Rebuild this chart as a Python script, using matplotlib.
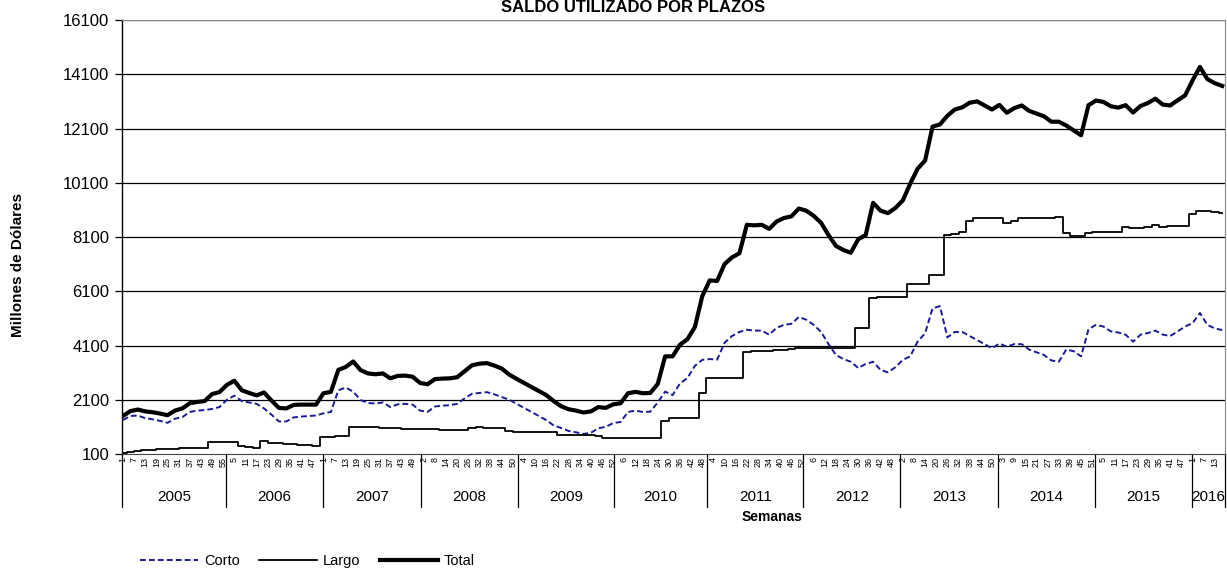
import matplotlib
matplotlib.use('Agg')
import matplotlib.pyplot as plt
import matplotlib.transforms as mtransforms
import numpy as np

plt.rcParams['font.family'] = ['Liberation Sans', 'DejaVu Sans']

# semanas por año (eje de categorías)
years = ['2005', '2006', '2007', '2008', '2009', '2010', '2011', '2012', '2013', '2014', '2015', '2016']
weeks_per_year = [56, 52, 53, 52, 52, 50, 52, 52, 53, 52, 52, 18]

# valores leídos cada 4 semanas (millones de dólares)
corto = [1350, 1500, 1520, 1420, 1380, 1320, 1250, 1400, 1460, 1650,
         1700, 1720, 1760, 1830, 2100, 2250, 2050, 2000, 1950, 1780,
         1550, 1300, 1300, 1450, 1480, 1500, 1520, 1600, 1650, 2450,
         2550, 2400, 2090, 1980, 1960, 2000, 1830, 1930, 1950, 1920,
         1700, 1650, 1850, 1880, 1900, 1950, 2150, 2320, 2350, 2380,
         2300, 2200, 2100, 1950, 1800, 1650, 1500, 1350, 1150, 1060,
         950, 900, 840, 880, 1050, 1100, 1240, 1280, 1650, 1700,
         1650, 1660, 2000, 2400, 2270, 2700, 2900, 3350, 3570, 3600,
         3580, 4200, 4450, 4600, 4680, 4650, 4650, 4500, 4750, 4860,
         4900, 5150, 5050, 4860, 4600, 4150, 3750, 3600, 3500, 3270,
         3420, 3500, 3200, 3110, 3300, 3570, 3700, 4250, 4550, 5470,
         5550, 4400, 4600, 4600, 4450, 4300, 4150, 4000, 4170, 4060,
         4150, 4150, 3950, 3850, 3750, 3550, 3500, 3950, 3890, 3700,
         4700, 4860, 4800, 4620, 4580, 4500, 4240, 4500, 4560, 4650,
         4500, 4450, 4620, 4800, 4920, 5300, 4860, 4730, 4670]

largo = [150, 180, 220, 250, 260, 270, 280, 300, 320, 320,
         320, 330, 550, 550, 550, 550, 400, 350, 310, 590,
         520, 500, 480, 460, 440, 420, 400, 740, 740, 750,
         760, 1110, 1100, 1090, 1080, 1070, 1060, 1050, 1040, 1030,
         1020, 1020, 1010, 1000, 990, 980, 1000, 1050, 1080, 1070,
         1060, 1050, 930, 920, 920, 920, 920, 920, 900, 800,
         800, 800, 790, 790, 780, 700, 690, 690, 690, 690,
         690, 690, 680, 1300, 1430, 1430, 1430, 1430, 2350, 2900,
         2900, 2900, 2900, 2900, 3870, 3880, 3900, 3900, 3920, 3940,
         3960, 4000, 4020, 4020, 4020, 4020, 4020, 4020, 4020, 4750,
         4750, 5860, 5870, 5870, 5870, 5880, 6370, 6370, 6370, 6700,
         6700, 8170, 8200, 8280, 8700, 8800, 8800, 8800, 8800, 8620,
         8700, 8800, 8800, 8800, 8800, 8800, 8850, 8260, 8140, 8150,
         8260, 8270, 8280, 8300, 8290, 8460, 8450, 8430, 8480, 8550,
         8480, 8500, 8520, 8520, 8950, 9070, 9060, 9040, 9000]

total = [1500, 1680, 1740, 1670, 1640, 1590, 1530, 1700, 1780, 1970,
         2020, 2050, 2310, 2380, 2650, 2800, 2450, 2350, 2260, 2370,
         2070, 1800, 1780, 1910, 1920, 1920, 1920, 2340, 2390, 3200,
         3310, 3510, 3190, 3070, 3040, 3070, 2890, 2980, 2990, 2950,
         2720, 2670, 2860, 2880, 2890, 2930, 3150, 3370, 3430, 3450,
         3360, 3250, 3030, 2870, 2720, 2570, 2420, 2270, 2050, 1860,
         1750, 1700, 1630, 1670, 1830, 1800, 1930, 1970, 2340, 2390,
         2340, 2350, 2680, 3700, 3700, 4130, 4330, 4780, 5920, 6500,
         6480, 7100, 7350, 7500, 8550, 8530, 8550, 8400, 8670, 8800,
         8860, 9150, 9070, 8880, 8620, 8170, 7770, 7620, 7520, 8020,
         8170, 9360, 9070, 8980, 9170, 9450, 10070, 10620, 10920, 12170,
         12250, 12570, 12800, 12880, 13050, 13100, 12950, 12800, 12970, 12680,
         12850, 12950, 12750, 12650, 12550, 12350, 12350, 12210, 12030, 11850,
         12960, 13130, 13080, 12920, 12870, 12960, 12690, 12930, 13040, 13200,
         12980, 12950, 13140, 13320, 13870, 14370, 13920, 13770, 13670]

yticks = [100, 2100, 4100, 6100, 8100, 10100, 12100, 14100, 16100]

n_weeks = sum(weeks_per_year)
x = np.arange(0, n_weeks, 4)[:len(corto)]

fig = plt.figure(figsize=(12.27, 5.69), dpi=100)
ax = fig.add_axes([122 / 1227, 1 - 454 / 569, 1103 / 1227, 434 / 569])

for y in yticks[1:]:
    ax.axhline(y, color='black', lw=0.9, zorder=1)

l1, = ax.plot(x, corto, color='#1a1a99', lw=1.4, dashes=(3, 1.6), zorder=3)
l2, = ax.plot(x, largo, color='black', lw=1.3, drawstyle='steps-mid', zorder=3)
l3, = ax.plot(x, total, color='black', lw=3.0, zorder=4)

ax.set_xlim(-0.5, n_weeks - 0.5)
ax.set_ylim(100, 16100)
ax.set_yticks(yticks)
ax.set_yticklabels([str(v) for v in yticks], fontsize=12)
ax.tick_params(axis='y', length=5, width=0.9, pad=4)

# etiquetas de semanas (cada 6 semanas)
week_nums = []
for nw in weeks_per_year:
    week_nums += list(range(1, nw + 1))
tick_pos = np.arange(0, n_weeks, 6)
ax.set_xticks(tick_pos)
ax.set_xticklabels([str(week_nums[i]) for i in tick_pos], rotation=90, fontsize=6.5,
                   va='top', ha='center')
ax.tick_params(axis='x', length=0, pad=2)

# años y separadores
trans = mtransforms.blended_transform_factory(ax.transData, ax.transAxes)
start = 0
bounds = [0]
for yr, nw in zip(years, weeks_per_year):
    ax.text(start + nw / 2 - 0.5, -0.10, yr, transform=trans, ha='center', va='center',
            fontsize=11)
    start += nw
    bounds.append(start)
for b in bounds:
    ax.plot([b - 0.5, b - 0.5], [0, -0.122], transform=trans, color='black', lw=0.9,
            clip_on=False)

for side in ['top', 'right']:
    ax.spines[side].set_color('#888888')
ax.spines['left'].set_linewidth(1.0)
ax.spines['bottom'].set_color('#444444')

fig.text(633 / 1227, 1 - 8 / 569, 'SALDO UTILIZADO POR PLAZOS', ha='center', va='center',
         fontsize=12, fontweight='bold')
fig.text(18 / 1227, 1 - 265 / 569, 'Millones de Dólares', rotation=90, ha='center',
         va='center', fontsize=11, fontweight='bold')
fig.text(772 / 1227, 1 - 517 / 569, 'Semanas', ha='center', va='center', fontsize=10,
         fontweight='bold')

fig.legend([l1, l2, l3], ['Corto', 'Largo', 'Total'], loc='center left',
           bbox_to_anchor=(140 / 1227, 1 - 561 / 569), ncol=3, frameon=False,
           fontsize=10.5, handlelength=4.0, handletextpad=0.4, columnspacing=1.3,
           borderpad=0, borderaxespad=0)

fig.savefig('out.png', dpi=100)
